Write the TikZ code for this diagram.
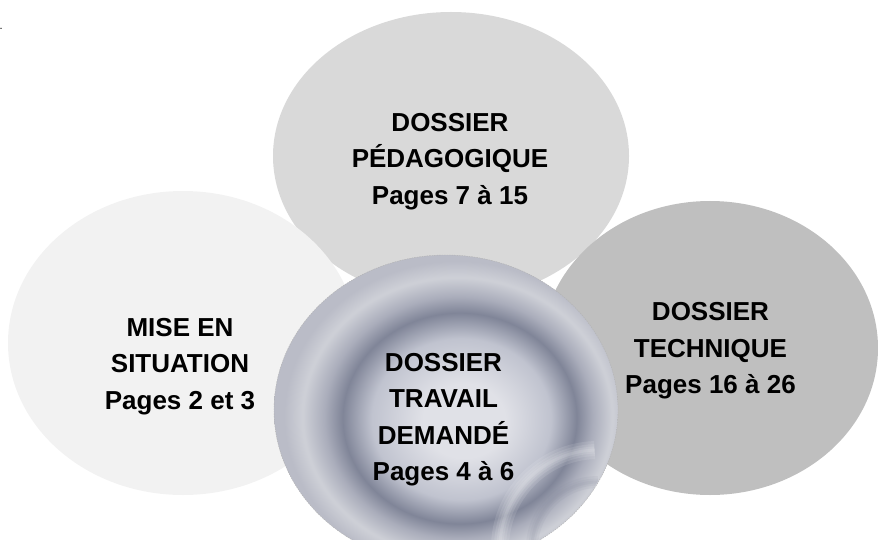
\documentclass[tikz,border=0pt]{standalone}
\usepackage{fontspec}
\setmainfont{Liberation Sans}
\usepackage{tikz}
\usetikzlibrary{shapes.geometric}

\definecolor{situcolor}{HTML}{F2F2F2}
\definecolor{pedacolor}{HTML}{D9D9D9}
\definecolor{techcolor}{HTML}{BFBFBF}
\definecolor{travlight}{RGB}{224,225,231}
\definecolor{travsoft}{RGB}{192,195,207}
\definecolor{travdark}{RGB}{128,133,152}
\definecolor{travmid}{RGB}{170,173,187}
\definecolor{travrim}{RGB}{206,208,215}
\definecolor{travedge}{RGB}{186,188,199}

% rings of the middle bubble (its rim sits at 25bp)
\pgfdeclareradialshading{travail}{\pgfpoint{3bp}{-2bp}}{%
  color(0bp)=(travlight); color(6bp)=(travlight); color(13bp)=(travsoft);
  color(17bp)=(travdark); color(19.5bp)=(travmid); color(22.5bp)=(travrim);
  color(25bp)=(travedge); color(50bp)=(travedge)}

\begin{document}
\begin{tikzpicture}[
    x=1pt, y=-1pt,
    bubble/.style={ellipse, inner sep=0pt},
    bubbletext/.style={align=center, inner sep=0pt,
        font=\bfseries\fontsize{26}{36.5}\selectfont}
]
    \useasboundingbox (0,0) rectangle (878,540);

    % The four bubbles, back to front
    \node[bubble, fill=pedacolor, minimum width=356, minimum height=288] (peda) at (451,156) {};
    \node[bubble, fill=situcolor, minimum width=350, minimum height=304] (situ) at (183,343) {};
    \node[bubble, fill=techcolor, minimum width=336, minimum height=294] (tech) at (710,348) {};
    \node[bubble, shading=travail, draw=gray!60, dash pattern=on 1.5pt off 1pt,
        line width=0.4pt, minimum width=344, minimum height=310] (trav) at (446,410) {};

    % soft swirl in the lower right of the middle bubble
    \begin{scope}
        \clip (trav.center) ellipse [x radius=171, y radius=154];
        \foreach \w in {3,7,12,18}
            \draw[white, opacity=0.11, line width=\w pt] (500,548) arc [start angle=180, end angle=268, radius=98];
        \foreach \w in {3,7,12}
            \draw[travdark, opacity=0.09, line width=\w pt] (532,548) arc [start angle=180, end angle=270, radius=66];
    \end{scope}

    % Titles and page ranges
    \node[bubbletext] (pedatext) at (450,161.5) {DOSSIER\\PÉDAGOGIQUE\\Pages 7 à 15};
    \node[bubbletext] (situtext) at (180,366.5) {MISE EN\\SITUATION\\Pages 2 et 3};
    \node[bubbletext] (techtext) at (710.5,351) {DOSSIER\\TECHNIQUE\\Pages 16 à 26};
    \node[bubbletext] (travtext) at (443.5,419.6) {DOSSIER\\TRAVAIL\\DEMANDÉ\\Pages 4 à 6};

    \node[font=\fontsize{11}{13}\selectfont, anchor=base west, inner sep=0pt] (dot) at (-0.5,30) {.};
\end{tikzpicture}
\end{document}
